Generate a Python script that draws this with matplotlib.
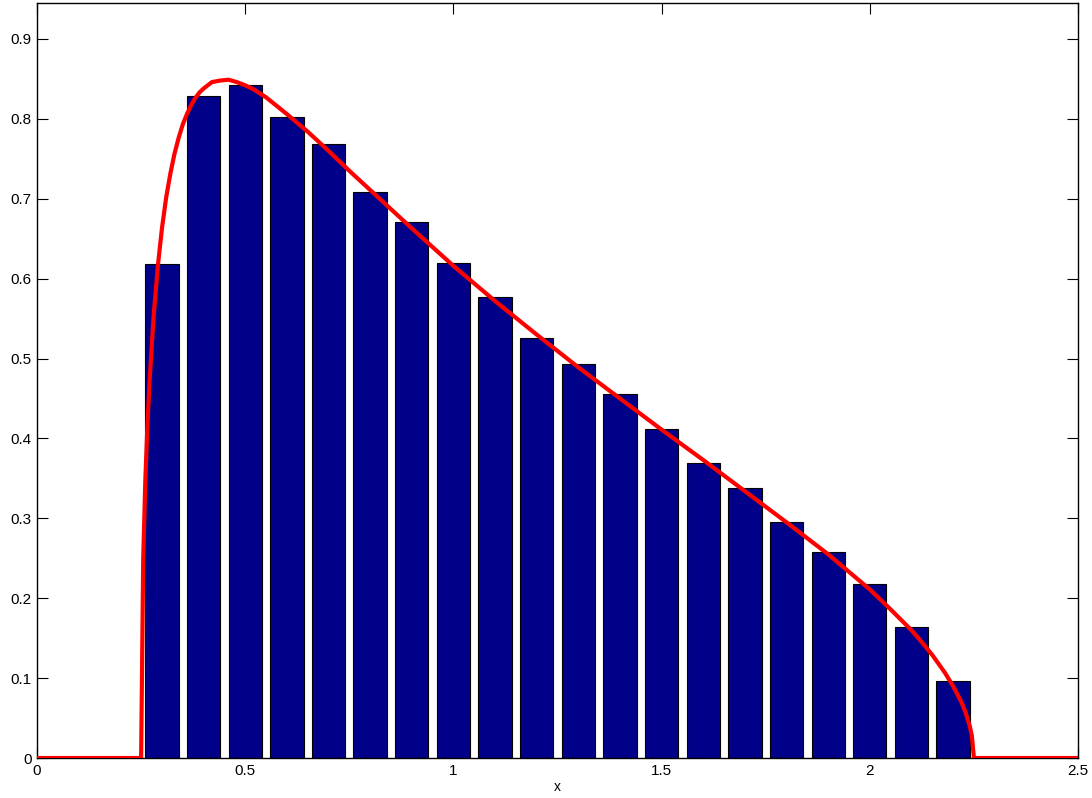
import matplotlib
matplotlib.use("Agg")
import matplotlib.pyplot as plt

# Histogram bars (bin centres and heights)
bar_x = [0.3, 0.4, 0.5, 0.6, 0.7, 0.8, 0.9, 1.0, 1.1, 1.2,
         1.3, 1.4, 1.5, 1.6, 1.7, 1.8, 1.9, 2.0, 2.1, 2.2]
bar_h = [0.618, 0.829, 0.842, 0.802, 0.768, 0.708, 0.671, 0.620, 0.577, 0.526,
         0.493, 0.456, 0.412, 0.369, 0.338, 0.295, 0.258, 0.218, 0.164, 0.097]

# Density curve points
curve_x = [0.0, 0.25, 0.255, 0.26, 0.265, 0.27, 0.28, 0.29, 0.30, 0.31, 0.32,
           0.33, 0.34, 0.35, 0.36, 0.37, 0.38, 0.39, 0.40, 0.42, 0.44,
           0.46, 0.48, 0.50, 0.52, 0.55, 0.60, 0.65, 0.70, 0.75, 0.80,
           0.90, 1.00, 1.10, 1.20, 1.30, 1.40, 1.50, 1.60, 1.70, 1.80,
           1.90, 1.95, 2.00, 2.05, 2.10, 2.12, 2.15, 2.18, 2.20, 2.22,
           2.23, 2.24, 2.245, 2.25, 2.5]
curve_y = [0.0, 0.0, 0.249, 0.346, 0.415, 0.469, 0.553, 0.615, 0.663, 0.701, 0.731,
           0.756, 0.776, 0.793, 0.806, 0.817, 0.826, 0.833, 0.838, 0.846, 0.848,
           0.849, 0.846, 0.842, 0.837, 0.827, 0.806, 0.784, 0.760, 0.735, 0.711,
           0.663, 0.616, 0.572, 0.530, 0.489, 0.450, 0.411, 0.373, 0.334, 0.295,
           0.255, 0.233, 0.211, 0.186, 0.160, 0.148, 0.129, 0.107, 0.090, 0.070,
           0.057, 0.040, 0.028, 0.0, 0.0]

x_ticks = [0, 0.5, 1, 1.5, 2, 2.5]
x_tick_labels = ["0", "0.5", "1", "1.5", "2", "2.5"]
y_ticks = [0, 0.1, 0.2, 0.3, 0.4, 0.5, 0.6, 0.7, 0.8, 0.9]
y_tick_labels = ["0", "0.1", "0.2", "0.3", "0.4", "0.5", "0.6", "0.7", "0.8", "0.9"]

plt.rcParams['font.family'] = ['Liberation Sans', 'DejaVu Sans']

fig = plt.figure(figsize=(10.92, 7.98), dpi=100)
ax = fig.add_axes([0.0339, 0.0501, 0.9533, 0.9461])

ax.bar(bar_x, bar_h, width=0.08, color='#000088', edgecolor='black', linewidth=0.8, zorder=2)
ax.plot(curve_x, curve_y, color='#ff0000', linewidth=3, zorder=3,
        solid_joinstyle='round')

ax.set_xlim(0, 2.5)
ax.set_ylim(0, 0.945)
ax.set_xticks(x_ticks)
ax.set_xticklabels(x_tick_labels)
ax.set_yticks(y_ticks)
ax.set_yticklabels(y_tick_labels)
ax.tick_params(direction='in', top=True, right=True, length=8, width=0.8, labelsize=11, pad=4)
for s in ax.spines.values():
    s.set_linewidth(1.0)
ax.set_xlabel('x', fontsize=10, labelpad=2)

fig.savefig('out.png', dpi=100)
